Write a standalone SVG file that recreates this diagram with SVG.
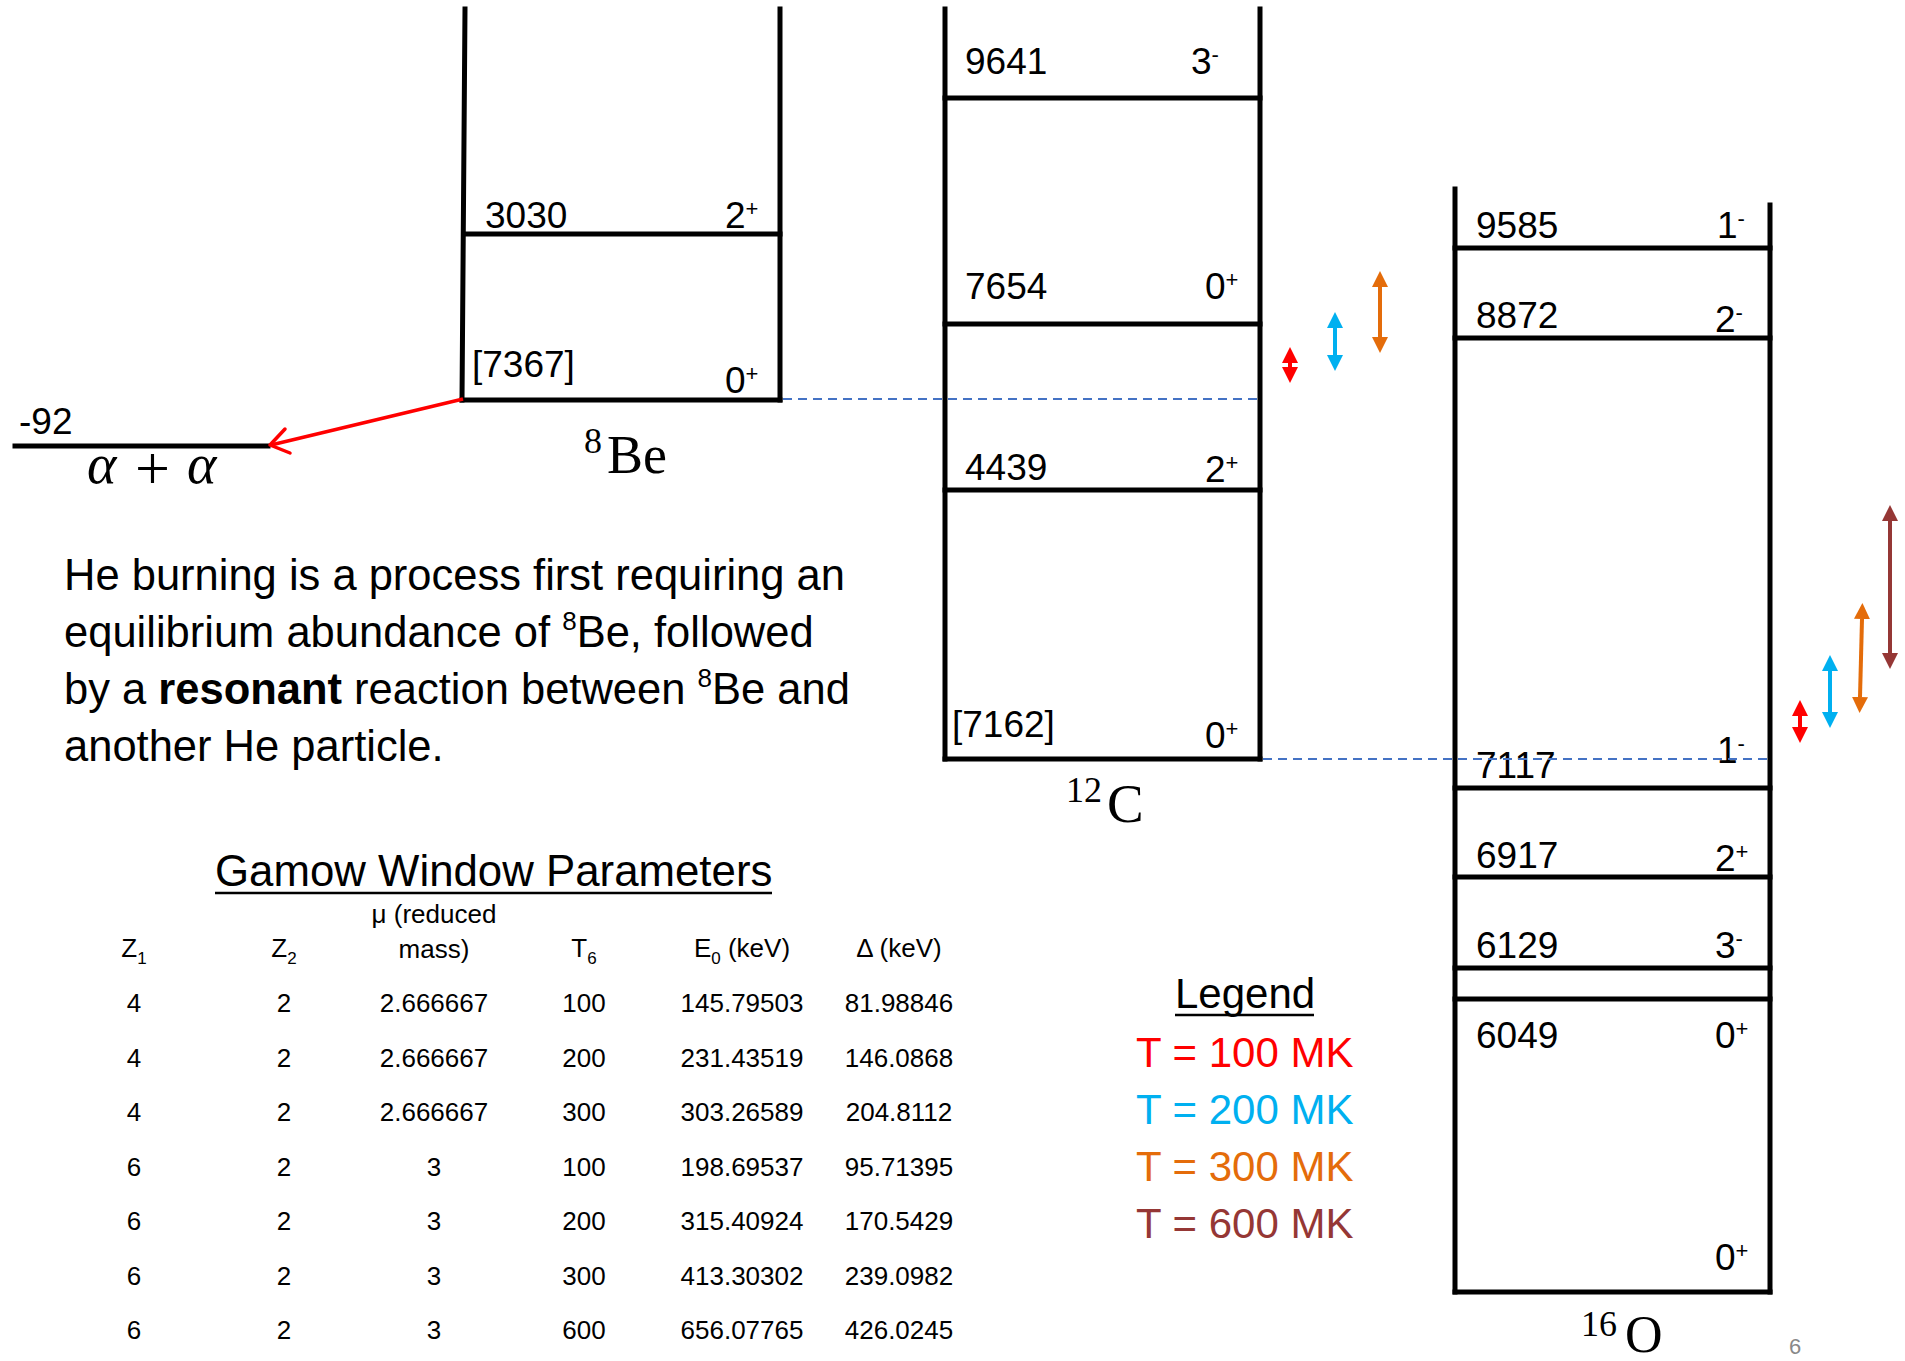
<svg xmlns="http://www.w3.org/2000/svg" width="1905" height="1361" viewBox="0 0 1905 1361">
<style>
.lv{stroke:#000;stroke-width:5;stroke-linecap:square;fill:none}
.lab{font-family:"Liberation Sans",Arial,sans-serif;font-size:37px;fill:#000}
.sup{font-size:22px}
.math{font-family:"Liberation Serif","Times New Roman",serif;fill:#000}
.dash{stroke:#4472C4;stroke-width:2;stroke-dasharray:9 6;fill:none}
.para{font-family:"Liberation Sans",Arial,sans-serif;font-size:43.5px;fill:#000}
.tbl{font-family:"Liberation Sans",Arial,sans-serif;font-size:26px;fill:#000;text-anchor:middle}
.leg{font-family:"Liberation Sans",Arial,sans-serif;font-size:42px}
.shaft{stroke-width:4;fill:none}
</style>
<defs>
<marker id="hR" viewBox="0 0 16 16" refX="0" refY="8" markerWidth="16" markerHeight="16" markerUnits="userSpaceOnUse" orient="auto-start-reverse"><path d="M0,0 L16,8 L0,16 z" fill="#FF0000"/></marker>
<marker id="hB" viewBox="0 0 16 16" refX="0" refY="8" markerWidth="16" markerHeight="16" markerUnits="userSpaceOnUse" orient="auto-start-reverse"><path d="M0,0 L16,8 L0,16 z" fill="#00B0F0"/></marker>
<marker id="hO" viewBox="0 0 16 16" refX="0" refY="8" markerWidth="16" markerHeight="16" markerUnits="userSpaceOnUse" orient="auto-start-reverse"><path d="M0,0 L16,8 L0,16 z" fill="#E46C0A"/></marker>
<marker id="hM" viewBox="0 0 16 16" refX="0" refY="8" markerWidth="16" markerHeight="16" markerUnits="userSpaceOnUse" orient="auto-start-reverse"><path d="M0,0 L16,8 L0,16 z" fill="#953735"/></marker>
</defs>
<rect width="1905" height="1361" fill="#fff"/>

<g id="alpha-alpha">
<line class="lv" x1="15" y1="446" x2="268" y2="446"/>
<text class="lab" x="19" y="434">-92</text>
<text class="math" x="87" y="483" font-size="56" font-style="italic">α</text>
<text class="math" x="135" y="489" font-size="62">+</text>
<text class="math" x="187" y="483" font-size="56" font-style="italic">α</text>
</g>

<g id="be8">
<line class="lv" x1="465" y1="9" x2="462" y2="400"/>
<line class="lv" x1="780" y1="9" x2="780" y2="400"/>
<line class="lv" x1="464" y1="234" x2="780" y2="234"/>
<line class="lv" x1="462" y1="400" x2="780" y2="400"/>
<text class="lab" x="485" y="228">3030</text>
<text class="lab" x="725" y="228">2<tspan class="sup" dy="-12">+</tspan></text>
<text class="lab" x="472" y="377">[7367]</text>
<text class="lab" x="725" y="393">0<tspan class="sup" dy="-12">+</tspan></text>
<text class="math" x="584" y="453" font-size="36">8</text>
<text class="math" x="607" y="473" font-size="54">Be</text>
</g>

<g id="c12">
<line class="lv" x1="945" y1="9" x2="945" y2="759"/>
<line class="lv" x1="1260" y1="9" x2="1260" y2="759"/>
<line class="lv" x1="945" y1="98" x2="1260" y2="98"/>
<line class="lv" x1="945" y1="324" x2="1260" y2="324"/>
<line class="lv" x1="945" y1="490" x2="1260" y2="490"/>
<line class="lv" x1="945" y1="759" x2="1260" y2="759"/>
<text class="lab" x="965" y="74">9641</text>
<text class="lab" x="1191" y="74">3<tspan class="sup" dy="-12">-</tspan></text>
<text class="lab" x="965" y="299">7654</text>
<text class="lab" x="1205" y="299">0<tspan class="sup" dy="-12">+</tspan></text>
<text class="lab" x="965" y="480">4439</text>
<text class="lab" x="1205" y="482">2<tspan class="sup" dy="-12">+</tspan></text>
<text class="lab" x="952" y="737">[7162]</text>
<text class="lab" x="1205" y="748">0<tspan class="sup" dy="-12">+</tspan></text>
<text class="math" x="1066" y="802" font-size="36">12</text>
<text class="math" x="1107" y="822" font-size="55">C</text>
</g>

<g id="o16">
<line class="lv" x1="1455" y1="189" x2="1455" y2="1292"/>
<line class="lv" x1="1770" y1="205" x2="1770" y2="1292"/>
<line class="lv" x1="1455" y1="248" x2="1770" y2="248"/>
<line class="lv" x1="1455" y1="338" x2="1770" y2="338"/>
<line class="lv" x1="1455" y1="788" x2="1770" y2="788"/>
<line class="lv" x1="1455" y1="877" x2="1770" y2="877"/>
<line class="lv" x1="1455" y1="968" x2="1770" y2="968"/>
<line class="lv" x1="1455" y1="999" x2="1770" y2="999"/>
<line class="lv" x1="1455" y1="1292" x2="1770" y2="1292"/>
<text class="lab" x="1476" y="238">9585</text>
<text class="lab" x="1717" y="238">1<tspan class="sup" dy="-12">-</tspan></text>
<text class="lab" x="1476" y="328">8872</text>
<text class="lab" x="1715" y="332">2<tspan class="sup" dy="-12">-</tspan></text>
<text class="lab" x="1476" y="778">7117</text>
<text class="lab" x="1717" y="763">1<tspan class="sup" dy="-12">-</tspan></text>
<text class="lab" x="1476" y="868">6917</text>
<text class="lab" x="1715" y="871">2<tspan class="sup" dy="-12">+</tspan></text>
<text class="lab" x="1476" y="958">6129</text>
<text class="lab" x="1715" y="958">3<tspan class="sup" dy="-12">-</tspan></text>
<text class="lab" x="1476" y="1048">6049</text>
<text class="lab" x="1715" y="1048">0<tspan class="sup" dy="-12">+</tspan></text>
<text class="lab" x="1715" y="1270">0<tspan class="sup" dy="-12">+</tspan></text>
<text class="math" x="1581" y="1336" font-size="36">16</text>
<text class="math" x="1625" y="1352" font-size="52">O</text>
</g>

<g id="connectors">
<line class="dash" x1="783" y1="399" x2="1260" y2="399"/>
<line class="dash" x1="1263" y1="759" x2="1770" y2="759"/>
<line x1="463" y1="399" x2="271" y2="445" stroke="#FF0000" stroke-width="3.5"/>
<polyline points="285,429 270,445 290,453" fill="none" stroke="#FF0000" stroke-width="3.5" stroke-linecap="round" stroke-linejoin="round"/>
<line class="shaft" stroke="#FF0000" x1="1290" y1="363" x2="1290" y2="367" marker-start="url(#hR)" marker-end="url(#hR)"/>
<line class="shaft" stroke="#00B0F0" x1="1335" y1="328" x2="1335" y2="355" marker-start="url(#hB)" marker-end="url(#hB)"/>
<line class="shaft" stroke="#E46C0A" x1="1380" y1="287" x2="1380" y2="337" marker-start="url(#hO)" marker-end="url(#hO)"/>
<line class="shaft" stroke="#FF0000" x1="1800" y1="716" x2="1800" y2="727" marker-start="url(#hR)" marker-end="url(#hR)"/>
<line class="shaft" stroke="#00B0F0" x1="1830" y1="671" x2="1830" y2="712" marker-start="url(#hB)" marker-end="url(#hB)"/>
<line class="shaft" stroke="#E46C0A" x1="1862" y1="619" x2="1860" y2="697" marker-start="url(#hO)" marker-end="url(#hO)"/>
<line class="shaft" stroke="#953735" x1="1890" y1="521" x2="1890" y2="653" marker-start="url(#hM)" marker-end="url(#hM)"/>
</g>

<g id="paragraph">
<text class="para" x="64" y="590">He burning is a process first requiring an</text>
<text class="para" x="64" y="647">equilibrium abundance of <tspan font-size="26" dy="-17">8</tspan><tspan dy="17">Be, followed</tspan></text>
<text class="para" x="64" y="704">by a <tspan font-weight="bold">resonant</tspan> reaction between <tspan font-size="26" dy="-17">8</tspan><tspan dy="17">Be and</tspan></text>
<text class="para" x="64" y="761">another He particle.</text>
</g>

<g id="table">
<text x="215" y="886" font-family="Liberation Sans, Arial, sans-serif" font-size="43.8">Gamow Window Parameters</text>
<line x1="215" y1="893" x2="772" y2="893" stroke="#000" stroke-width="2.5"/>
<text class="tbl" x="134" y="957">Z<tspan font-size="17" dy="7">1</tspan></text>
<text class="tbl" x="284" y="957">Z<tspan font-size="17" dy="7">2</tspan></text>
<text class="tbl" x="434" y="923">μ (reduced</text>
<text class="tbl" x="434" y="958">mass)</text>
<text class="tbl" x="584" y="957">T<tspan font-size="17" dy="7">6</tspan></text>
<text class="tbl" x="742" y="957">E<tspan font-size="17" dy="7">0</tspan><tspan dy="-7"> (keV)</tspan></text>
<text class="tbl" x="899" y="957">Δ (keV)</text>
<g>
<text class="tbl" x="134" y="1012">4</text><text class="tbl" x="284" y="1012">2</text><text class="tbl" x="434" y="1012">2.666667</text><text class="tbl" x="584" y="1012">100</text><text class="tbl" x="742" y="1012">145.79503</text><text class="tbl" x="899" y="1012">81.98846</text>
<text class="tbl" x="134" y="1067">4</text><text class="tbl" x="284" y="1067">2</text><text class="tbl" x="434" y="1067">2.666667</text><text class="tbl" x="584" y="1067">200</text><text class="tbl" x="742" y="1067">231.43519</text><text class="tbl" x="899" y="1067">146.0868</text>
<text class="tbl" x="134" y="1121">4</text><text class="tbl" x="284" y="1121">2</text><text class="tbl" x="434" y="1121">2.666667</text><text class="tbl" x="584" y="1121">300</text><text class="tbl" x="742" y="1121">303.26589</text><text class="tbl" x="899" y="1121">204.8112</text>
<text class="tbl" x="134" y="1176">6</text><text class="tbl" x="284" y="1176">2</text><text class="tbl" x="434" y="1176">3</text><text class="tbl" x="584" y="1176">100</text><text class="tbl" x="742" y="1176">198.69537</text><text class="tbl" x="899" y="1176">95.71395</text>
<text class="tbl" x="134" y="1230">6</text><text class="tbl" x="284" y="1230">2</text><text class="tbl" x="434" y="1230">3</text><text class="tbl" x="584" y="1230">200</text><text class="tbl" x="742" y="1230">315.40924</text><text class="tbl" x="899" y="1230">170.5429</text>
<text class="tbl" x="134" y="1285">6</text><text class="tbl" x="284" y="1285">2</text><text class="tbl" x="434" y="1285">3</text><text class="tbl" x="584" y="1285">300</text><text class="tbl" x="742" y="1285">413.30302</text><text class="tbl" x="899" y="1285">239.0982</text>
<text class="tbl" x="134" y="1339">6</text><text class="tbl" x="284" y="1339">2</text><text class="tbl" x="434" y="1339">3</text><text class="tbl" x="584" y="1339">600</text><text class="tbl" x="742" y="1339">656.07765</text><text class="tbl" x="899" y="1339">426.0245</text>
</g>
</g>

<g id="legend">
<text class="leg" x="1175" y="1008" fill="#000">Legend</text>
<line x1="1175" y1="1015" x2="1314" y2="1015" stroke="#000" stroke-width="2.5"/>
<text class="leg" x="1136" y="1067" fill="#FF0000">T = 100 MK</text>
<text class="leg" x="1136" y="1124" fill="#00B0F0">T = 200 MK</text>
<text class="leg" x="1136" y="1181" fill="#E46C0A">T = 300 MK</text>
<text class="leg" x="1136" y="1238" fill="#953735">T = 600 MK</text>
</g>

<text x="1789" y="1354" font-family="Liberation Sans, Arial, sans-serif" font-size="22" fill="#898989">6</text>
</svg>
